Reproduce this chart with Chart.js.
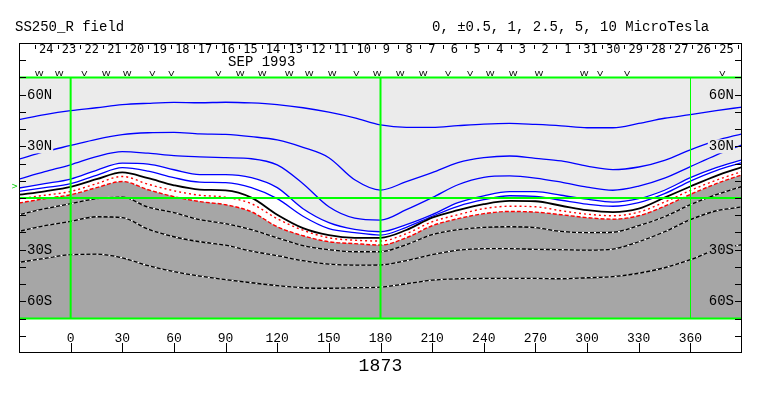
<!DOCTYPE html>
<html>
<head>
<meta charset="utf-8">
<title>SS250_R field</title>
<script src="https://cdn.jsdelivr.net/npm/chart.js@4.4.1/dist/chart.umd.min.js"></script>
<style>
  body { margin: 0; background: #fff; }
  canvas { display: block; }
</style>
</head>
<body>
<canvas id="mapa" width="763" height="396"></canvas>
<script>
// carrington longitude of the samples
var lons = [-30, -15, 0, 15, 30, 45, 60, 75, 90, 105, 120, 135, 150, 165, 180, 195, 210, 225, 240, 255, 270, 285, 300, 315, 330, 345, 360, 375, 390];

// latitude of each contour (deg), microtesla levels
var pos10  = [45.5, 48.4, 50.7, 52.4, 54.2, 55.0, 55.5, 55.3, 55.6, 55.2, 54.2, 52.4, 49.8, 46.5, 42.4, 41.0, 41.0, 42.0, 42.9, 43.3, 42.7, 41.9, 40.8, 40.8, 43.3, 46.3, 48.4, 50.7, 52.8];
var pos5   = [22.6, 26.9, 30.5, 34.1, 36.8, 37.9, 38.1, 37.2, 36.9, 35.6, 33.7, 29.4, 23.4, 10.6, 4.6, 9.5, 14.7, 20.5, 23.4, 24.4, 23.0, 21.5, 18.5, 16.5, 18.0, 21.9, 28.0, 33.3, 37.3];
var pos2_5 = [11.0, 15.3, 19.3, 24.0, 26.9, 26.0, 24.6, 23.9, 23.4, 22.8, 19.2, 8.3, -5.1, -11.7, -12.8, -6.8, 0.2, 7.7, 12.0, 12.8, 11.6, 9.2, 6.3, 4.5, 6.9, 11.5, 18.2, 24.9, 30.9];
var pos1   = [5.8, 8.3, 11.0, 16.1, 20.2, 19.7, 16.4, 13.6, 13.6, 11.8, 6.0, -6.2, -14.3, -18.2, -19.6, -15.5, -9.7, -2.7, 1.3, 3.7, 3.7, 1.6, -0.7, -2.4, -0.4, 4.5, 11.8, 17.6, 22.2];
var pos05  = [3.8, 6.0, 8.3, 13.2, 17.6, 15.6, 11.8, 9.2, 8.9, 6.0, -0.4, -10.6, -17.8, -20.1, -21.5, -17.0, -10.6, -4.8, -1.0, 1.3, 1.0, -1.3, -3.6, -4.8, -2.7, 2.5, 9.8, 15.9, 20.5];
var neutral = [1.9, 3.9, 6.4, 10.9, 14.9, 11.5, 7.4, 4.9, 4.4, 0.2, -9.7, -17.5, -21.6, -23.1, -23.1, -18.6, -11.4, -7.1, -3.6, -1.7, -1.9, -4.5, -7.1, -8.2, -6.2, 0.2, 6.7, 12.9, 18.0];
var neg05  = [-0.4, 1.6, 3.8, 8.3, 12.5, 8.0, 4.2, 1.6, 0.5, -3.3, -12.0, -18.7, -23.1, -24.5, -25.0, -20.7, -13.8, -9.7, -6.2, -4.8, -5.1, -7.4, -9.4, -10.3, -8.2, -2.4, 4.4, 10.3, 15.4];
var neg1   = [-2.9, -0.4, 1.9, 6.0, 9.6, 4.8, 0.8, -2.1, -3.9, -8.0, -16.7, -21.9, -25.4, -26.5, -27.3, -23.1, -16.1, -12.0, -9.1, -7.8, -8.2, -9.7, -11.4, -12.3, -10.3, -4.8, 2.1, 8.3, 13.5];
var neg2_5 = [-9.7, -6.2, -3.3, -0.4, 0.5, -5.3, -8.5, -12.6, -14.9, -18.4, -23.1, -27.7, -30.0, -31.2, -31.2, -27.1, -21.3, -18.4, -17.0, -16.7, -17.2, -19.4, -20.1, -19.9, -16.1, -10.9, -3.9, 1.9, 6.7];
var neg5   = [-19.4, -16.1, -13.6, -10.9, -11.4, -18.1, -22.5, -25.4, -27.4, -30.9, -33.5, -36.4, -38.4, -39.0, -38.9, -36.4, -32.9, -30.3, -29.4, -29.4, -29.8, -30.0, -30.3, -29.7, -25.4, -19.6, -12.6, -7.4, -5.2];
var neg10  = [-37.4, -35.0, -32.9, -32.6, -34.7, -39.3, -42.8, -45.4, -47.4, -49.2, -50.9, -52.1, -52.4, -52.1, -51.7, -49.8, -47.7, -46.9, -46.7, -46.7, -46.7, -46.9, -46.3, -45.7, -43.7, -40.5, -35.8, -30.0, -27.1];

var levels = ['0', '\u00b10.5', '1', '2.5', '5', '10'];
var lonTicks = [0, 30, 60, 90, 120, 150, 180, 210, 240, 270, 300, 330, 360];
var latLabels = [60, 30, -30, -60];

// days of the rotation (sep 1993 then aug), first day boundary and step in longitude
var days = [24, 23, 22, 21, 20, 19, 18, 17, 16, 15, 14, 13, 12, 11, 10, 9, 8, 7, 6, 5, 4, 3, 2, 1, 31, 30, 29, 28, 27, 26, 25];
var firstDayLon = -20.7;
var degPerDay = 13.17;
var monthLabel = 'SEP 1993';
var monthLon = 111;

// observation marks on top row
var obsLons  = [-18.2, -6.6, 8.0, 20.7, 32.9, 47.4, 58.5, 85.8, 98.5, 111.3, 127.0, 138.6, 152.0, 166.0, 178.1, 191.4, 204.8, 219.3, 232.1, 243.7, 257.1, 272.1, 298.3, 307.6, 323.3, 378.5];
var obsTypes = ['W', 'W', 'V', 'W', 'W', 'V', 'V', 'V', 'W', 'W', 'W', 'W', 'W', 'V', 'W', 'W', 'W', 'V', 'V', 'W', 'W', 'W', 'W', 'V', 'V', 'V'];

var rotation = '1873';
var b0Lat = 6.7;

var GRIS_CLARO = '#ebebeb';
var GRIS_OSCURO = '#a6a6a6';

function serie(vals){
    return lons.map(function(l, i){ return {x: l, y: vals[i]}; });
}

function linea(vals, color, ancho, dash, fill, fondo){
    return {
        data: serie(vals),
        borderColor: color,
        borderWidth: ancho,
        borderDash: dash || [],
        pointRadius: 0,
        cubicInterpolationMode: 'monotone',
        fill: fill || false,
        backgroundColor: fondo || 'transparent'
    };
}

// first dataset ends up on top, so the white dashes go before their black line
var datasets = [
    linea(neutral, '#000000', 1.8),
    linea(pos10, '#0000ff', 1.3),
    linea(pos5, '#0000ff', 1.3),
    linea(pos2_5, '#0000ff', 1.3),
    linea(pos1, '#0000ff', 1.3, null, {value: 70}, GRIS_CLARO),
    linea(pos05, '#0000ff', 1.3),
    linea(neg05, '#ff0000', 1.4, [2, 3]),
    linea(neg1, '#ff0000', 1.4, [4, 2], {value: -70}, GRIS_OSCURO),
    linea(neg2_5, '#ffffff', 1.3, [2, 4]),
    linea(neg2_5, '#000000', 1.3),
    linea(neg5, '#ffffff', 1.3, [2, 4]),
    linea(neg5, '#000000', 1.3),
    linea(neg10, '#ffffff', 1.3, [2, 4]),
    linea(neg10, '#000000', 1.3)
];

var marco = {
    id: 'marco',
    afterDatasetsDraw: function(chart){
        var ctx = chart.ctx;
        var a = chart.chartArea;
        var sx = chart.scales.x, sy = chart.scales.y;
        var px = function(v){ return sx.getPixelForValue(v); };
        var py = function(v){ return sy.getPixelForValue(v); };
        ctx.save();

        // green reference lines
        ctx.strokeStyle = '#00ff00';
        ctx.lineWidth = 2;
        [70, 0, -70].forEach(function(lat){
            ctx.beginPath();
            ctx.moveTo(a.left, py(lat));
            ctx.lineTo(a.right, py(lat));
            ctx.stroke();
        });
        [0, 180].forEach(function(lon){
            ctx.beginPath();
            ctx.moveTo(px(lon), py(70));
            ctx.lineTo(px(lon), py(-70));
            ctx.stroke();
        });
        ctx.lineWidth = 1;
        ctx.beginPath();
        ctx.moveTo(Math.round(px(360)) + 0.5, py(70));
        ctx.lineTo(Math.round(px(360)) + 0.5, py(-70));
        ctx.stroke();

        // frame and ticks
        ctx.strokeStyle = '#000';
        ctx.lineWidth = 1;
        ctx.strokeRect(a.left + 0.5, a.top + 0.5, a.right - a.left - 1, a.bottom - a.top - 1);
        ctx.beginPath();
        for(var lat = -80; lat <= 80; lat += 10){
            var yy = Math.round(py(lat)) + 0.5;
            ctx.moveTo(a.left, yy); ctx.lineTo(a.left + 7, yy);
            ctx.moveTo(a.right - 7, yy); ctx.lineTo(a.right, yy);
        }
        lonTicks.forEach(function(lon){
            var xx = Math.round(px(lon)) + 0.5;
            ctx.moveTo(xx, a.bottom); ctx.lineTo(xx, a.bottom - 10);
        });
        ctx.stroke();

        ctx.fillStyle = '#000';
        ctx.textBaseline = 'alphabetic';

        // latitude labels, both sides
        ctx.font = '14px "Liberation Mono"';
        latLabels.forEach(function(lat){
            var txt = Math.abs(lat) + (lat > 0 ? 'N' : 'S');
            var w = ctx.measureText(txt).width;
            var yy = py(lat);
            [a.left + 8, a.right - 8 - w].forEach(function(xx){
                ctx.fillStyle = lat > 0 ? GRIS_CLARO : GRIS_OSCURO;
                ctx.fillRect(xx - 1, yy - 7, w + 2, 14);
                ctx.fillStyle = '#000';
                ctx.fillText(txt, xx, yy + 4);
            });
        });

        // longitude labels
        ctx.font = '13px "Liberation Mono"';
        ctx.textAlign = 'center';
        lonTicks.forEach(function(lon){
            ctx.fillText(String(lon), px(lon), a.bottom - 11);
        });

        // day ruler
        ctx.beginPath();
        for(var k = 0; k <= days.length; k++){
            var xd = Math.round(px(firstDayLon + k * degPerDay)) + 0.5;
            ctx.moveTo(xd, a.top + 2); ctx.lineTo(xd, a.top + 6);
        }
        ctx.stroke();
        ctx.font = '12px "DejaVu Sans Mono"';
        days.forEach(function(d, k){
            ctx.fillText(String(d), px(firstDayLon + (k + 0.5) * degPerDay), a.top + 10);
        });
        ctx.font = '14px "Liberation Mono"';
        ctx.fillText(monthLabel, px(monthLon), a.top + 23);

        // W / V marks, squat letters
        ctx.font = '9px "DejaVu Sans"';
        obsLons.forEach(function(lon, i){
            ctx.save();
            ctx.translate(px(lon), py(70) - 1.5);
            ctx.scale(1.0, 0.75);
            ctx.fillText(obsTypes[i], 0, 0);
            ctx.restore();
        });

        // B0 mark
        ctx.fillStyle = '#00cc00';
        ctx.font = '8px "DejaVu Sans"';
        ctx.textAlign = 'right';
        ctx.fillText('>', a.left - 1, py(b0Lat) + 3);

        // titles
        ctx.fillStyle = '#000';
        ctx.textAlign = 'left';
        ctx.font = '14px "Liberation Mono"';
        ctx.fillText('SS250_R field', 15, 31);
        ctx.fillText(levels.join(', ') + ' MicroTesla', 432, 31);

        // rotation number
        ctx.font = '18px "Liberation Mono"';
        ctx.textAlign = 'center';
        var cx = px(180);
        for(var c = 0; c < rotation.length; c++){
            ctx.fillText(rotation[c], cx + (c - (rotation.length - 1) / 2) * 11, 371);
        }
        ctx.restore();
    }
};

var grafico = new Chart(document.getElementById('mapa'), {
    type: 'line',
    data: {datasets: datasets},
    options: {
        responsive: false,
        animation: false,
        events: [],
        layout: {padding: {left: 19, right: 21, top: 43, bottom: 43}},
        scales: {
            x: {type: 'linear', min: -30, max: 390, display: false},
            y: {type: 'linear', min: -90, max: 90, display: false}
        },
        plugins: {
            legend: {display: false},
            tooltip: {enabled: false},
            filler: {drawTime: 'beforeDatasetsDraw'}
        }
    },
    plugins: [marco]
});
</script>
</body>
</html>
